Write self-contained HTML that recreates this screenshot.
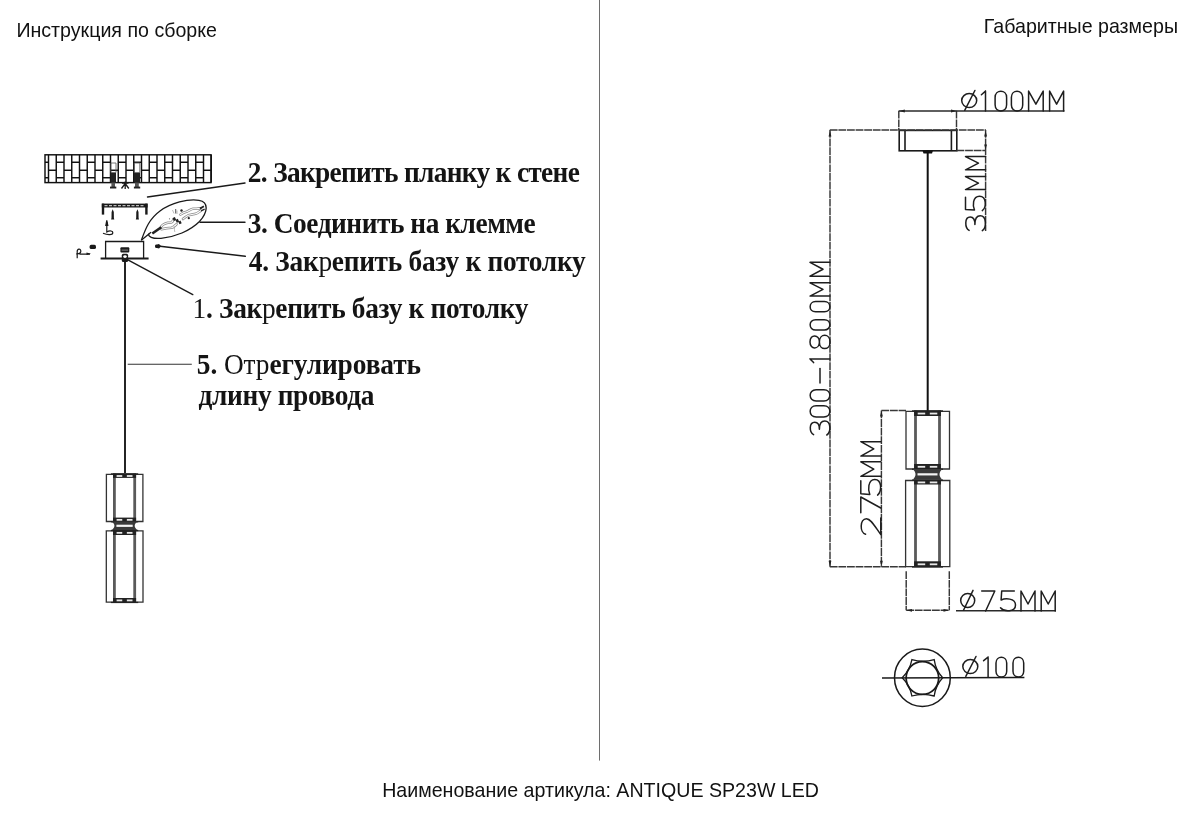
<!DOCTYPE html>
<html><head><meta charset="utf-8">
<style>
html,body{margin:0;padding:0;background:#fff;}
body{width:1200px;height:827px;overflow:hidden;position:relative;}
svg{position:absolute;left:0;top:0;will-change:transform;}
.s{font-family:"Liberation Sans",sans-serif;font-size:19.62px;fill:#111;}
.b{font-family:"Liberation Serif",serif;font-weight:bold;font-size:28.5px;fill:#141414;}
</style></head><body>
<svg width="1200" height="827" viewBox="0 0 1200 827">
<text class="s" x="16.4" y="36.8">Инструкция по сборке</text>
<text class="s" x="983.8" y="32.8" >Габаритные размеры</text>
<text class="s" x="382.2" y="797">Наименование артикула: ANTIQUE SP23W LED</text>
<text class="b" transform="translate(247.8,182) scale(0.96,1)" letter-spacing="-0.697">2. Закрепить планку к стене</text>
<text class="b" transform="translate(247.8,233) scale(0.96,1)" letter-spacing="-0.466">3. Соединить на клемме</text>
<text class="b" transform="translate(248.8,270.9) scale(0.96,1)" letter-spacing="-0.284">4. Зак<tspan font-weight="normal">р</tspan>епить базу к потолку</text>
<text class="b" transform="translate(192.6,317.5) scale(0.96,1)" letter-spacing="-0.325"><tspan font-weight="normal">1</tspan>. Зак<tspan font-weight="normal">р</tspan>епить базу к потолку</text>
<text class="b" transform="translate(196.8,374.4) scale(0.96,1)" letter-spacing="-0.085">5. <tspan font-weight="normal">Отр</tspan>егулировать</text>
<text class="b" transform="translate(198.6,405.2) scale(0.96,1)" letter-spacing="-0.365">длину провода</text>
<g stroke="#111" stroke-width="1.45" fill="none"><rect x="45" y="154.8" width="166" height="27.8"/><line x1="48.5" y1="154.8" x2="48.5" y2="182.6"/><line x1="56.25" y1="154.8" x2="56.25" y2="182.6"/><line x1="64" y1="154.8" x2="64" y2="182.6"/><line x1="71.75" y1="154.8" x2="71.75" y2="182.6"/><line x1="79.5" y1="154.8" x2="79.5" y2="182.6"/><line x1="87.25" y1="154.8" x2="87.25" y2="182.6"/><line x1="95" y1="154.8" x2="95" y2="182.6"/><line x1="102.75" y1="154.8" x2="102.75" y2="182.6"/><line x1="110.5" y1="154.8" x2="110.5" y2="182.6"/><line x1="118.25" y1="154.8" x2="118.25" y2="182.6"/><line x1="126" y1="154.8" x2="126" y2="182.6"/><line x1="133.75" y1="154.8" x2="133.75" y2="182.6"/><line x1="141.5" y1="154.8" x2="141.5" y2="182.6"/><line x1="149.25" y1="154.8" x2="149.25" y2="182.6"/><line x1="157" y1="154.8" x2="157" y2="182.6"/><line x1="164.75" y1="154.8" x2="164.75" y2="182.6"/><line x1="172.5" y1="154.8" x2="172.5" y2="182.6"/><line x1="180.25" y1="154.8" x2="180.25" y2="182.6"/><line x1="188" y1="154.8" x2="188" y2="182.6"/><line x1="195.75" y1="154.8" x2="195.75" y2="182.6"/><line x1="203.5" y1="154.8" x2="203.5" y2="182.6"/><line x1="211.25" y1="154.8" x2="211.25" y2="182.6"/><line x1="45" y1="162.25" x2="48.5" y2="162.25"/><line x1="45" y1="177.75" x2="48.5" y2="177.75"/><line x1="48.5" y1="170.25" x2="56.25" y2="170.25"/><line x1="56.25" y1="162.25" x2="64" y2="162.25"/><line x1="56.25" y1="177.75" x2="64" y2="177.75"/><line x1="64" y1="170.25" x2="71.75" y2="170.25"/><line x1="71.75" y1="162.25" x2="79.5" y2="162.25"/><line x1="71.75" y1="177.75" x2="79.5" y2="177.75"/><line x1="79.5" y1="170.25" x2="87.25" y2="170.25"/><line x1="87.25" y1="162.25" x2="95" y2="162.25"/><line x1="87.25" y1="177.75" x2="95" y2="177.75"/><line x1="95" y1="170.25" x2="102.75" y2="170.25"/><line x1="102.75" y1="162.25" x2="110.5" y2="162.25"/><line x1="102.75" y1="177.75" x2="110.5" y2="177.75"/><line x1="110.5" y1="170.25" x2="118.25" y2="170.25"/><line x1="118.25" y1="162.25" x2="126" y2="162.25"/><line x1="118.25" y1="177.75" x2="126" y2="177.75"/><line x1="126" y1="170.25" x2="133.75" y2="170.25"/><line x1="133.75" y1="162.25" x2="141.5" y2="162.25"/><line x1="133.75" y1="177.75" x2="141.5" y2="177.75"/><line x1="141.5" y1="170.25" x2="149.25" y2="170.25"/><line x1="149.25" y1="162.25" x2="157" y2="162.25"/><line x1="149.25" y1="177.75" x2="157" y2="177.75"/><line x1="157" y1="170.25" x2="164.75" y2="170.25"/><line x1="164.75" y1="162.25" x2="172.5" y2="162.25"/><line x1="164.75" y1="177.75" x2="172.5" y2="177.75"/><line x1="172.5" y1="170.25" x2="180.25" y2="170.25"/><line x1="180.25" y1="162.25" x2="188" y2="162.25"/><line x1="180.25" y1="177.75" x2="188" y2="177.75"/><line x1="188" y1="170.25" x2="195.75" y2="170.25"/><line x1="195.75" y1="162.25" x2="203.5" y2="162.25"/><line x1="195.75" y1="177.75" x2="203.5" y2="177.75"/><line x1="203.5" y1="170.25" x2="211.25" y2="170.25"/></g>
<g fill="#222">
<rect x="110.4" y="172.4" width="5.6" height="10.5"/>
<rect x="111.4" y="182.6" width="3.6" height="4.5" fill="#555"/>
<rect x="110" y="186.6" width="6.3" height="1.9"/>
<rect x="133.9" y="172.4" width="6.2" height="10.5"/>
<rect x="135" y="182.6" width="3.8" height="4.5" fill="#555"/>
<rect x="133.9" y="186.6" width="6.3" height="1.9"/>
</g>
<g stroke="#555" stroke-width="0.8" fill="none">
<path d="M110.8,172.4 V163 H116 V172.4"/>
<path d="M134.3,172.4 V163 H139.8 V172.4"/>
</g>
<g stroke="#1a1a1a" stroke-width="1.3" fill="none">
<path d="M125.2,181.5 V189 M125.2,183.5 L121.5,188.5 M125.2,183.5 L128.8,188.5 M122,183 H128.5"/>
</g>
<g stroke="#1a1a1a" stroke-width="1.4" fill="none" stroke-linecap="round">
<line x1="147.5" y1="197" x2="245" y2="183"/>
<line x1="200" y1="222.3" x2="245" y2="222.3"/>
<line x1="160" y1="246.2" x2="245.3" y2="256.3"/>
<line x1="126" y1="258.8" x2="192.8" y2="294.6"/>
</g>
<line x1="127.7" y1="364.2" x2="191.8" y2="364.2" stroke="#333" stroke-width="1.1"/>
<g fill="#1a1a1a">
<rect x="101.8" y="203.6" width="45.8" height="3.9"/>
<rect x="101.8" y="203.6" width="2.4" height="11"/>
<rect x="145.2" y="203.6" width="2.4" height="11"/>
</g>
<g stroke="#bbb" stroke-width="1.3" stroke-dasharray="3 1.5">
<line x1="104.5" y1="205.6" x2="145" y2="205.6"/>
</g>
<g fill="#1a1a1a">
<path d="M112.7,209.2 L113.8,212 L113.9,218 L114.3,219.6 L111.1,219.6 L111.5,218 L111.6,212 Z"/>
<path d="M137.4,209.2 L138.5,212 L138.6,218 L139,219.6 L135.8,219.6 L136.2,218 L136.3,212 Z"/>
</g>
<g stroke="#1a1a1a" stroke-width="1.2" fill="none">
<path d="M106.8,222 V232 C110,230 113,231 112.8,232.8 C112.5,235 108,235.3 103,233.2"/>
<path d="M105.8,225.5 L106.8,220.3 L107.8,225.5 Z" fill="#1a1a1a"/>
</g>
<g stroke="#1a1a1a" fill="none">
<path d="M105.6,258.3 V241.5 H143.6 V258.3" stroke-width="1.3"/>
<line x1="100.6" y1="258.5" x2="148.6" y2="258.5" stroke-width="1.8"/>
</g>
<g fill="#1a1a1a">
<rect x="120.4" y="247.2" width="8.9" height="5.4" rx="1"/>
<rect x="121.6" y="249.6" width="6.5" height="1" fill="#888"/>
<rect x="121.8" y="253.8" width="6.3" height="8.2" rx="1.5"/>
<ellipse cx="125" cy="256.6" rx="1.8" ry="1.3" fill="#fff"/>
</g>
<line x1="125" y1="260" x2="125" y2="473" stroke="#1a1a1a" stroke-width="1.9"/>
<g stroke="#1a1a1a" stroke-width="1.2" fill="none">
<path d="M77.2,258.2 V252 C77,248.3 81,248 80.8,251.5 C80.6,253.5 78.5,254 76.2,253.8 M79.5,254.2 H90"/>
</g>
<g fill="#1a1a1a">
<path d="M86.5,252.6 L91,253.8 L86.5,255 Z"/>
<rect x="89.6" y="244.8" width="6.4" height="4.3" rx="1.6"/>
<path d="M155,246.2 C155,244.6 155.8,244.4 157,244.4 L159,243.9 L161.2,246.2 L159,248.5 L157,248 C155.8,248 155,247.8 155,246.2 Z"/>
</g>
<g stroke="#1a1a1a" stroke-width="1.3" fill="none">
<path d="M141.3,240.3 C145.5,229 149,219 160,211 C171,203 188,198.5 199,200.3 C209,202 208,212 199.5,221.5 C190,231 175,237 161,238.3 C152,239 148,236.5 148.6,233.6"/>
<line x1="141.3" y1="240.3" x2="151" y2="232.2"/>
</g>
<g stroke="#8a8a8a" stroke-width="2.6" fill="none" stroke-linecap="round">
<path id="w1" d="M161,226.8 C163,224 166,222.5 171,222.5 C173,222 173,220 174,219"/>
<path id="w2" d="M161.5,229.2 C165,228.5 169,228 171.5,227.8 C174,227.2 175,225.5 176.5,224.2"/>
<path id="w3" d="M180.5,214.5 C183,213 185,212 186.5,211.8 C189,211 191,208.8 193,208.7 C195.5,208.6 197,209.2 200,208.3"/>
<path id="w4" d="M183,219 C185.5,217 187.5,215.3 189.5,215 C192,214.6 194,213.9 195.6,213.7 C197.5,213.5 199,211.8 200.8,210.6"/>
</g>
<g stroke="#fff" stroke-width="1.1" fill="none" stroke-linecap="round">
<path d="M161,226.8 C163,224 166,222.5 171,222.5 C173,222 173,220 174,219"/>
<path d="M161.5,229.2 C165,228.5 169,228 171.5,227.8 C174,227.2 175,225.5 176.5,224.2"/>
<path d="M180.5,214.5 C183,213 185,212 186.5,211.8 C189,211 191,208.8 193,208.7 C195.5,208.6 197,209.2 200,208.3"/>
<path d="M183,219 C185.5,217 187.5,215.3 189.5,215 C192,214.6 194,213.9 195.6,213.7 C197.5,213.5 199,211.8 200.8,210.6"/>
</g>
<g stroke="#aaa" stroke-width="0.8" fill="none">
<path d="M174,226 C175,229 174,231 175,232"/>
<path d="M172.5,210 L174,213.5 M177,210.5 V214"/>
</g>
<g fill="#222">
<path d="M151.5,232.5 L160.5,226.2 L162,228.3 L153,234.6 Z"/>
<path d="M199.5,207.8 L203.5,205.5 L204.3,207 L200.5,209.5 Z"/>
<path d="M200.8,210.3 L204.3,208.6 L204.9,209.8 L201.5,211.5 Z"/>
<circle cx="181.5" cy="210.5" r="1.2"/>
<circle cx="188.8" cy="218.2" r="1.1"/>
<rect x="173" y="217.5" width="2.6" height="3.2" transform="rotate(-25 174.3 219)"/>
<rect x="176" y="219.2" width="2.6" height="3.2" transform="rotate(-25 177.3 220.8)"/>
<rect x="178.8" y="221" width="2.4" height="2.8" transform="rotate(-25 180 222.4)"/>
<rect x="175.2" y="209" width="1" height="4.5" fill="#555"/>
<circle cx="169.5" cy="218.8" r="0.6" fill="#666"/>
</g>
<g stroke="#333" stroke-width="1.3" fill="none"><path d="M106.4,521.5 V474.3 H142.9 V521.5 H106.4 Z"/><path d="M106.3,602.2 V530.9 H143 V602.2 H106.3 Z"/></g><g stroke="#5a5a5a" stroke-width="2.8"><line x1="114.4" y1="473.5" x2="114.4" y2="521.5"/><line x1="134.7" y1="473.5" x2="134.7" y2="521.5"/><line x1="114.4" y1="530.1" x2="114.4" y2="602.2"/><line x1="134.7" y1="530.1" x2="134.7" y2="602.2"/></g><g fill="#222"><rect x="113" y="473.5" width="23.1" height="4.4"/><rect x="113" y="517.6" width="23.1" height="3.9"/><rect x="113" y="530.1" width="23.1" height="4.9"/><rect x="113" y="598" width="23.1" height="4.2"/><rect x="110.9" y="473.3" width="27.3" height="1.3"/><rect x="110.9" y="521.1" width="27.3" height="1.3"/><rect x="110.9" y="529.9" width="27.3" height="1.3"/><rect x="110.9" y="601.8" width="27.3" height="1.3"/></g><g fill="#e8e8e8"><rect x="116.6" y="475.1" width="5.65" height="1.8"/><rect x="126.85" y="475.1" width="5.65" height="1.8"/><rect x="116.6" y="518.95" width="5.65" height="1.8"/><rect x="126.85" y="518.95" width="5.65" height="1.8"/><rect x="116.6" y="531.95" width="5.65" height="1.8"/><rect x="126.85" y="531.95" width="5.65" height="1.8"/><rect x="116.6" y="599.5" width="5.65" height="1.8"/><rect x="126.85" y="599.5" width="5.65" height="1.8"/></g><path d="M111.4,521.5 H137.7 C133.7,523.8 133.7,527.8 137.7,530.1 H111.4 C115.4,527.8 115.4,523.8 111.4,521.5 Z" fill="#3a3a3a"/><rect x="116.4" y="524.7" width="16.3" height="2.2" fill="#f4f4f4"/>
<line x1="599.5" y1="0" x2="599.5" y2="760.6" stroke="#6e6e6e" stroke-width="1"/>
<g stroke="#1a1a1a" stroke-width="1.6" fill="none">
<rect x="899.2" y="130.4" width="57.6" height="20.4"/>
<line x1="905" y1="130.4" x2="905" y2="150.8"/>
<line x1="951.4" y1="130.4" x2="951.4" y2="150.8"/>
</g>
<g stroke="#383838" stroke-width="1.45" fill="none" stroke-dasharray="7.8 0.8">
<line x1="898.8" y1="110.8" x2="898.8" y2="130"/>
<line x1="956.5" y1="110.8" x2="956.5" y2="130"/>
<line x1="898.8" y1="111" x2="1064.5" y2="111" stroke-dasharray="none" stroke="#2a2a2a"/>
<line x1="829.8" y1="130" x2="986" y2="130"/>
<line x1="830" y1="130" x2="830" y2="566.7"/>
<line x1="985.6" y1="130" x2="985.6" y2="231"/>
<line x1="956.5" y1="150.5" x2="986" y2="150.5"/>
<line x1="881.4" y1="410.5" x2="881.4" y2="566.7"/>
<line x1="881.4" y1="410.5" x2="906" y2="410.5"/>
<line x1="829.8" y1="566.8" x2="906" y2="566.8"/>
<line x1="906.2" y1="571.3" x2="906.2" y2="610.3"/>
<line x1="949.3" y1="571.3" x2="949.3" y2="610.3"/>
<line x1="906.2" y1="610.3" x2="949.3" y2="610.3"/>
<line x1="956" y1="610.8" x2="1056" y2="610.8" stroke-dasharray="none" stroke="#2a2a2a"/>
</g>
<g fill="#222">
<path d="M830,130.8 L831.4,136.5 L828.6,136.5 Z"/>
<path d="M830,566.5 L831.4,560.8 L828.6,560.8 Z"/>
<path d="M985.6,130.8 L987,136.5 L984.2,136.5 Z"/>
<path d="M985.6,150.3 L987,144.6 L984.2,144.6 Z"/>
<path d="M881.4,410.8 L882.8,416.5 L880,416.5 Z"/>
<path d="M881.4,566.5 L882.8,560.8 L880,560.8 Z"/>
<path d="M906.4,610.3 L912,608.9 L912,611.7 Z"/>
<path d="M949.1,610.3 L943.5,608.9 L943.5,611.7 Z"/>
<path d="M899.2,111 L904.8,109.6 L904.8,112.4 Z"/>
<path d="M956.6,111 L951,109.6 L951,112.4 Z"/>
</g>
<line x1="927.7" y1="150.5" x2="927.7" y2="411" stroke="#111" stroke-width="2"/>
<path d="M922.5,150.5 H933 L932,153.5 H923.5 Z" fill="#111"/>

<g stroke="#333" stroke-width="1.3" fill="none"><path d="M906,469 V411.3 H949.5 V469 H906 Z"/><path d="M905.6,566.7 V480.5 H949.8 V566.7 H905.6 Z"/></g><g stroke="#5a5a5a" stroke-width="2.8"><line x1="915.5" y1="410.5" x2="915.5" y2="469"/><line x1="939.5" y1="410.5" x2="939.5" y2="469"/><line x1="915.5" y1="479.7" x2="915.5" y2="566.7"/><line x1="939.5" y1="479.7" x2="939.5" y2="566.7"/></g><g fill="#222"><rect x="914.1" y="410.5" width="26.8" height="5.5"/><rect x="914.1" y="464" width="26.8" height="5"/><rect x="914.1" y="479.7" width="26.8" height="4.8"/><rect x="914.1" y="561.3" width="26.8" height="5.4"/><rect x="912" y="410.3" width="31" height="1.3"/><rect x="912" y="468.6" width="31" height="1.3"/><rect x="912" y="479.5" width="31" height="1.3"/><rect x="912" y="566.3" width="31" height="1.3"/></g><g fill="#e8e8e8"><rect x="917.7" y="412.65" width="7.5" height="1.8"/><rect x="929.8" y="412.65" width="7.5" height="1.8"/><rect x="917.7" y="465.9" width="7.5" height="1.8"/><rect x="929.8" y="465.9" width="7.5" height="1.8"/><rect x="917.7" y="481.5" width="7.5" height="1.8"/><rect x="929.8" y="481.5" width="7.5" height="1.8"/><rect x="917.7" y="563.4" width="7.5" height="1.8"/><rect x="929.8" y="563.4" width="7.5" height="1.8"/></g><path d="M912.5,469 H942.5 C938.5,472.35 938.5,476.35 942.5,479.7 H912.5 C916.5,476.35 916.5,472.35 912.5,469 Z" fill="#3a3a3a"/><rect x="917.5" y="473.25" width="20" height="2.2" fill="#f4f4f4"/>
<g stroke="#1a1a1a" fill="none">
<ellipse cx="922.4" cy="677.8" rx="27.9" ry="28.7" stroke-width="1.5"/>
<circle cx="922.4" cy="678" r="16.3" stroke-width="1.8"/>
<path d="M902.2,677.8 Q909.80,670.33 911.9,659.6 Q922.94,662.80 934.2,659.6 Q935.67,670.28 942.7,677.8 Q935.67,685.32 934.2,696.0 Q922.94,692.80 911.9,696.0 Q909.80,685.27 902.2,677.8 Z" stroke-width="1.3"/>
<line x1="882" y1="677.9" x2="1024.4" y2="677.6" stroke-width="1.5"/>
</g>
<g stroke="#1e1e1e" stroke-width="1.5" fill="none" stroke-linejoin="round" stroke-linecap="round">
<path transform="translate(961.7,111.1)" d="M0,-10.5 A7.5,7 0 1 1 15,-10.5 A7.5,7 0 1 1 0,-10.5 Z M3,-0.8 L13.2,-20.6"/>
<path transform="translate(981.4,111.1)" d="M4.1,-20 L4.1,0 M4.1,-20 L0,-16.4"/>
<path transform="translate(995.1,111.1)" d="M0,-13.68 C0,-21.9 11.5,-21.9 11.5,-13.68 L11.5,-6.33 C11.5,1.9 0,1.9 0,-6.33 Z"/>
<path transform="translate(1011.4,111.1)" d="M0,-13.79 C0,-21.86 11.3,-21.86 11.3,-13.79 L11.3,-6.22 C11.3,1.86 0,1.86 0,-6.22 Z"/>
<path transform="translate(1028.6,111.1)" d="M0,0 L0,-20 L7.3,-7 L14.6,-20 L14.6,0"/>
<path transform="translate(1049.6,111.1)" d="M0,0 L0,-20 L7,-7 L14,-20 L14,0"/>
<path transform="translate(960.7,611)" d="M0,-10.5 A7,7 0 1 1 14,-10.5 A7,7 0 1 1 0,-10.5 Z M2.8,-0.8 L12.32,-20.6"/>
<path transform="translate(981.7,611)" d="M0,-20 L13.1,-20 L3.93,0"/>
<path transform="translate(1000.5,611)" d="M13.8,-20 L1.2,-20 L0.6,-11 C4.5,-12.8 15,-13.2 15,-6 C15,1.2 3.75,1.2 0,-3.2"/>
<path transform="translate(1021,611)" d="M0,0 L0,-20 L7,-7 L14,-20 L14,0"/>
<path transform="translate(1041.2,611)" d="M0,0 L0,-20 L7,-7 L14,-20 L14,0"/>
<path transform="translate(962.8,677.1)" d="M0,-10.5 A7.5,7 0 1 1 15,-10.5 A7.5,7 0 1 1 0,-10.5 Z M3,-0.8 L13.2,-20.6"/>
<path transform="translate(983.6,677.1)" d="M4.5,-20 L4.5,0 M4.5,-20 L0,-16.4"/>
<path transform="translate(996,677.1)" d="M0,-14.12 C0,-21.77 10.7,-21.77 10.7,-14.12 L10.7,-5.88 C10.7,1.77 0,1.77 0,-5.88 Z"/>
<path transform="translate(1013,677.1)" d="M0,-14.12 C0,-21.77 10.7,-21.77 10.7,-14.12 L10.7,-5.88 C10.7,1.77 0,1.77 0,-5.88 Z"/>
<path transform="matrix(0,-1,1,0,985.5,230.7)" d="M0.3,-16.4 C2.98,-20.8 13.71,-21.2 13.71,-15.2 C13.71,-11.2 9.69,-10.6 6.26,-10.6 C11.18,-10.6 14.9,-9 14.9,-5.2 C14.9,1.2 2.98,1.2 0,-3.2"/>
<path transform="matrix(0,-1,1,0,985.5,210.6)" d="M13.25,-20 L1.15,-20 L0.58,-11 C4.32,-12.8 14.4,-13.2 14.4,-6 C14.4,1.2 3.6,1.2 0,-3.2"/>
<path transform="matrix(0,-1,1,0,985.5,189.6)" d="M0,0 L0,-20 L6.5,-7 L13,-20 L13,0"/>
<path transform="matrix(0,-1,1,0,985.5,169.8)" d="M0,0 L0,-20 L6.6,-7 L13.2,-20 L13.2,0"/>
<path transform="matrix(0,-1,1,0,830,435)" d="M0.28,-16.4 C2.78,-20.8 12.79,-21.2 12.79,-15.2 C12.79,-11.2 9.04,-10.6 5.84,-10.6 C10.43,-10.6 13.9,-9 13.9,-5.2 C13.9,1.2 2.78,1.2 0,-3.2"/>
<path transform="matrix(0,-1,1,0,830,416.9)" d="M0,-13.84 C0,-21.85 11.2,-21.85 11.2,-13.84 L11.2,-6.16 C11.2,1.85 0,1.85 0,-6.16 Z"/>
<path transform="matrix(0,-1,1,0,830,400.9)" d="M0,-13.89 C0,-21.83 11.1,-21.83 11.1,-13.89 L11.1,-6.11 C11.1,1.83 0,1.83 0,-6.11 Z"/>
<path transform="matrix(0,-1,1,0,830,382.9)" d="M0,-10 L14.4,-10"/>
<path transform="matrix(0,-1,1,0,830,362.6)" d="M3.7,-20 L3.7,0 M3.7,-20 L0,-16.4"/>
<path transform="matrix(0,-1,1,0,830,349.6)" d="M7.65,-20 C-0.77,-20 0,-10.6 7.65,-10.6 C15.3,-10.6 16.07,-20 7.65,-20 Z M7.65,-10.6 C-1.22,-10.6 -1.22,0 7.65,0 C16.52,0 16.52,-10.6 7.65,-10.6 Z"/>
<path transform="matrix(0,-1,1,0,830,330)" d="M0,-14.33 C0,-21.7 10.3,-21.7 10.3,-14.33 L10.3,-5.67 C10.3,1.7 0,1.7 0,-5.67 Z"/>
<path transform="matrix(0,-1,1,0,830,311.8)" d="M0,-14.39 C0,-21.68 10.2,-21.68 10.2,-14.39 L10.2,-5.61 C10.2,1.68 0,1.68 0,-5.61 Z"/>
<path transform="matrix(0,-1,1,0,830,296.1)" d="M0,0 L0,-20 L6.65,-7 L13.3,-20 L13.3,0"/>
<path transform="matrix(0,-1,1,0,830,276.2)" d="M0,0 L0,-20 L6.95,-7 L13.9,-20 L13.9,0"/>
<path transform="matrix(0,-1,1,0,880.8,534.5)" d="M0.33,-15.2 C1.65,-21.2 15.84,-21.2 15.84,-14.4 C15.84,-10 8.25,-6 0,0 L16.5,0"/>
<path transform="matrix(0,-1,1,0,880.8,512.7)" d="M0,-20 L15.7,-20 L4.71,0"/>
<path transform="matrix(0,-1,1,0,880.8,495.1)" d="M14.44,-20 L1.26,-20 L0.63,-11 C4.71,-12.8 15.7,-13.2 15.7,-6 C15.7,1.2 3.92,1.2 0,-3.2"/>
<path transform="matrix(0,-1,1,0,880.8,476.3)" d="M0,0 L0,-20 L7.25,-7 L14.5,-20 L14.5,0"/>
<path transform="matrix(0,-1,1,0,880.8,456.1)" d="M0,0 L0,-20 L7.2,-7 L14.4,-20 L14.4,0"/>
</g>
</svg>
</body></html>
